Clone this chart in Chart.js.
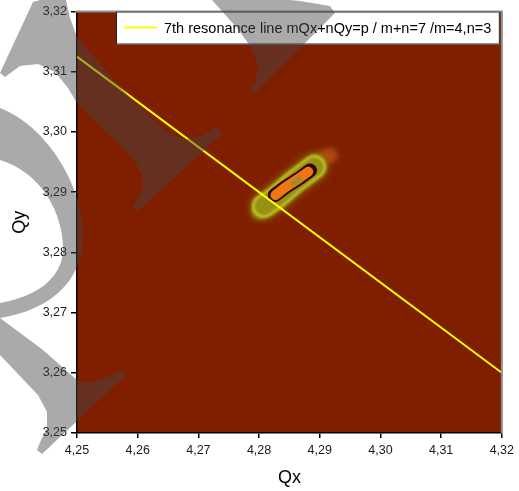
<!DOCTYPE html>
<html>
<head>
<meta charset="utf-8">
<script src="https://cdn.jsdelivr.net/npm/chart.js@4.4.0/dist/chart.umd.min.js"></script>
<style>
html,body{margin:0;padding:0;background:#fff;}
#wrap{width:519px;height:491px;position:relative;}
</style>
</head>
<body>
<div id="wrap"><canvas id="c" width="519" height="491"></canvas></div>
<script>
// ---- data ----
const xTicks = [4.25, 4.26, 4.27, 4.28, 4.29, 4.30, 4.31, 4.32];
const yTicks = [3.25, 3.26, 3.27, 3.28, 3.29, 3.30, 3.31, 3.32];
const xTickLabels = ['4,25', '4,26', '4,27', '4,28', '4,29', '4,30', '4,31', '4,32'];
const yTickLabels = ['3,25', '3,26', '3,27', '3,28', '3,29', '3,30', '3,31', '3,32'];

const resonanceLabel = '7th resonance line mQx+nQy=p / m+n=7 /m=4,n=3';
const resonanceQx = [4.25, 4.32];
const resonanceQy = [3.3125, 3.26];

// tune-footprint density contour (ridge lines of each level)
const haloQx = [4.2897, 4.2917];
const haloQy = [3.2953, 3.2961];
const tailQx = [4.2800, 4.2815];
const tailQy = [3.2868, 3.2878];
const glowQx = [4.2808, 4.2828, 4.2858, 4.2891];
const glowQy = [3.2877, 3.2891, 3.2917, 3.2942];
const ridgeQx = [4.2826, 4.2843, 4.2868, 4.2884];
const ridgeQy = [3.2895, 3.2908, 3.2924, 3.2936];
const coreQx = [4.2827, 4.2842, 4.2866, 4.2881];
const coreQy = [3.2895, 3.2907, 3.2923, 3.2934];
const centreQx = [4.2857, 4.2866];
const centreQy = [3.2915, 3.2921];

const pts = (xs, ys) => xs.map((x, i) => ({x: x, y: ys[i]}));
const FAMILY = "'Liberation Sans', Arial, sans-serif";

function layer(xs, ys, color, width, order, blur) {
  return {
    data: pts(xs, ys), showLine: true, pointRadius: 0, borderColor: color,
    borderWidth: width, borderCapStyle: 'round', borderJoinStyle: 'round',
    fill: false, order: order, blur: blur || 0
  };
}

const datasets = [
  {label: resonanceLabel, data: pts(resonanceQx, resonanceQy), showLine: true, pointRadius: 0,
   borderColor: '#ffff00', borderWidth: 2, fill: false, order: 0},
  layer(centreQx, centreQy, 'rgb(150,140,45)', 5, 1, 0.8),
  layer(coreQx, coreQy, 'rgb(238,118,22)', 10, 2, 0.6),
  layer(ridgeQx, ridgeQy, 'rgb(50,8,0)', 14, 3, 0.6),
  layer(glowQx, glowQy, 'rgb(150,145,20)', 19, 4, 1.2),
  layer(glowQx, glowQy, 'rgb(200,205,45)', 24, 5, 1.6),
  layer(tailQx, tailQy, 'rgba(170,170,30,0.75)', 15, 6, 2.5),
  layer(glowQx, glowQy, 'rgba(130,110,0,0.65)', 30, 7, 3),
  layer(haloQx, haloQy, 'rgba(200,95,30,0.65)', 15, 8, 2.5)
];

// ---- plugins ----
const bgPlugin = {
  id: 'bg',
  beforeDraw(chart) {
    const a = chart.chartArea, ctx = chart.ctx;
    ctx.save();
    ctx.fillStyle = '#fff';
    ctx.fillRect(0, 0, chart.width, chart.height);
    ctx.fillStyle = 'rgb(128,31,0)';
    ctx.fillRect(a.left, a.top, a.right - a.left, a.bottom - a.top);
    ctx.restore();
  }
};

const blurPlugin = {
  id: 'blur',
  beforeDatasetDraw(chart, args) {
    const b = chart.data.datasets[args.index].blur;
    if (b) { chart.ctx.save(); chart.ctx.filter = 'blur(' + b + 'px)'; }
  },
  afterDatasetDraw(chart, args) {
    if (chart.data.datasets[args.index].blur) chart.ctx.restore();
  }
};

const framePlugin = {
  id: 'frame',
  afterDatasetsDraw(chart) {
    const a = chart.chartArea, ctx = chart.ctx;
    ctx.save();
    ctx.strokeStyle = '#8c8c8c';
    ctx.lineWidth = 2;
    ctx.beginPath();
    ctx.moveTo(a.left - 2, a.top);
    ctx.lineTo(a.right, a.top);
    ctx.lineTo(a.right, a.bottom);
    ctx.stroke();
    // legend box inside the plot, top right
    const ds = chart.data.datasets[0];
    const bx = a.left + 39, by = a.top, bw = a.right - 2 - bx, bh = 33;
    ctx.fillStyle = '#fff';
    ctx.fillRect(bx, by, bw, bh);
    ctx.strokeStyle = '#222';
    ctx.lineWidth = 1;
    ctx.strokeRect(bx + 0.5, by + 0.5, bw - 1, bh - 1);
    ctx.strokeStyle = ds.borderColor;
    ctx.lineWidth = 2;
    ctx.beginPath();
    ctx.moveTo(bx + 8, by + 16);
    ctx.lineTo(bx + 41, by + 16);
    ctx.stroke();
    ctx.fillStyle = '#000';
    ctx.font = '14.5px ' + FAMILY;
    ctx.textBaseline = 'middle';
    ctx.textAlign = 'left';
    ctx.fillText(ds.label, bx + 48, by + 17);
    ctx.restore();
  }
};

// semi-transparent grey watermark laid over the whole picture
const watermarkPlugin = {
  id: 'watermark',
  afterDraw(chart) {
    const ctx = chart.ctx;
    ctx.save();
    ctx.fillStyle = 'rgba(69,69,69,0.46)';
    // left crescent
    ctx.beginPath();
    ctx.moveTo(0, 108);
    ctx.bezierCurveTo(45, 125, 85, 185, 83, 240);
    ctx.bezierCurveTo(81, 282, 50, 310, 0, 318);
    ctx.lineTo(0, 303);
    ctx.bezierCurveTo(40, 296, 65, 275, 63, 245);
    ctx.bezierCurveTo(61, 205, 35, 170, 0, 160);
    ctx.closePath();
    ctx.fill();
    const shapes = [
      [[0,73],[33,2],[40,0],[66,0],[70,18],[77,37],[97,60],[117,84],[137,104],[157,123],[166,131],[175,136],[187,139],[200,136],[217,127],[222,134],[138,211],[133,207],[139,197],[143,186],[142,175],[136,163],[125,150],[77,103],[68,88],[55,72],[38,64],[20,66],[5,77]],
      [[212,0],[237,28],[248,43],[255,56],[258,68],[256,80],[250,90],[254,94],[335,13],[330,6],[318,4],[300,1],[290,0]],
      [[0,318],[43,350],[77,380],[87,383],[100,380],[123,370],[126,375],[42,454],[37,450],[41,440],[47,428],[47,412],[38,395],[0,355]]
    ];
    shapes.forEach(s => {
      ctx.beginPath();
      s.forEach((p, i) => i ? ctx.lineTo(p[0], p[1]) : ctx.moveTo(p[0], p[1]));
      ctx.closePath();
      ctx.fill();
    });
    ctx.restore();
  }
};

const tickFont = {size: 12.5, family: FAMILY};
const titleFont = {size: 18, family: FAMILY};

new Chart(document.getElementById('c'), {
  type: 'scatter',
  data: {datasets: datasets},
  options: {
    responsive: false,
    animation: false,
    layout: {padding: {top: 9, right: 17, left: 0, bottom: 0}},
    plugins: {legend: {display: false}, tooltip: {enabled: false}},
    scales: {
      x: {
        type: 'linear', min: 4.25, max: 4.32,
        afterBuildTicks: s => { s.ticks = xTicks.map(v => ({value: v})); },
        afterFit: s => { s.height = 58; },
        ticks: {callback: (v, i) => xTickLabels[i], font: tickFont, color: '#1a1a1a', padding: 5, maxRotation: 0, autoSkip: false},
        grid: {display: true, drawOnChartArea: false, drawTicks: true, tickLength: 5, color: '#000', lineWidth: 1.5},
        border: {display: true, color: '#000', width: 1.5},
        title: {display: true, text: 'Qx', font: titleFont, color: '#000', padding: {top: 0, bottom: 2}}
      },
      y: {
        type: 'linear', min: 3.25, max: 3.32,
        afterBuildTicks: s => { s.ticks = yTicks.map(v => ({value: v})); },
        afterFit: s => { s.width = 77; },
        ticks: {callback: (v, i) => yTickLabels[i], font: tickFont, color: '#1a1a1a', padding: 4, autoSkip: false},
        grid: {display: true, drawOnChartArea: false, drawTicks: true, tickLength: 6, color: '#000', lineWidth: 1.5},
        border: {display: true, color: '#000', width: 1.5},
        title: {display: true, text: 'Qy', font: titleFont, color: '#000', padding: {top: 9, bottom: 0}}
      }
    }
  },
  plugins: [bgPlugin, blurPlugin, framePlugin, watermarkPlugin]
});
</script>
</body>
</html>
